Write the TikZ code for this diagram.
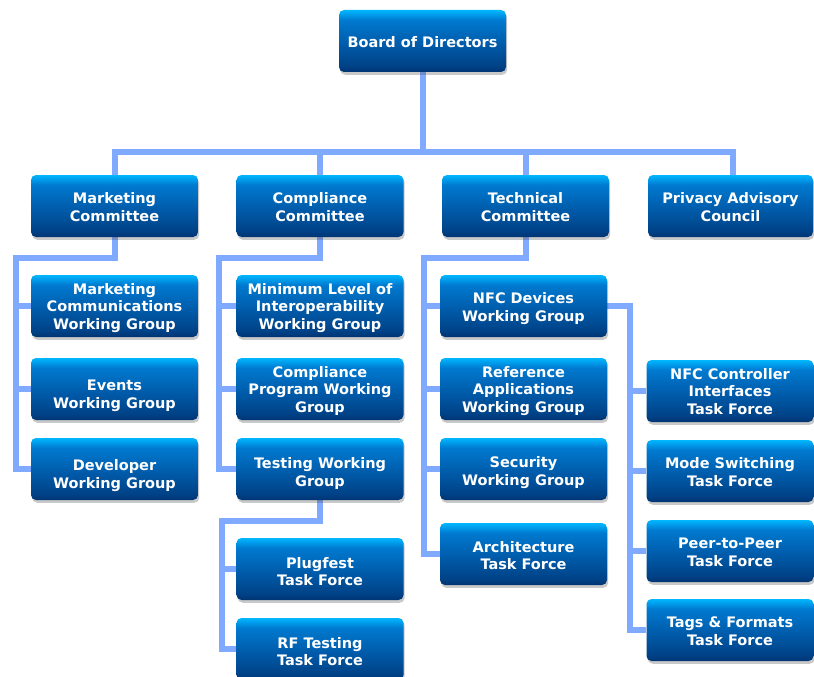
\documentclass[tikz,border=0pt]{standalone}
\usepackage{fontspec}
\setmainfont{DejaVu Sans}
\usetikzlibrary{shadows,backgrounds}

\definecolor{linec}{RGB}{128,170,255}
\definecolor{bbot}{RGB}{0,52,115}
\definecolor{bdark}{RGB}{0,66,135}
\definecolor{bmid}{RGB}{0,95,175}
\definecolor{bup}{RGB}{0,122,208}
\definecolor{btopa}{RGB}{0,160,238}
\definecolor{btop}{RGB}{0,182,252}
\pgfdeclareverticalshading{boxshade}{100bp}{color(0bp)=(bbot); color(25bp)=(bbot); color(30bp)=(bdark); color(50bp)=(bmid); color(67bp)=(bup); color(72bp)=(btopa); color(75bp)=(btop); color(100bp)=(btop)}

\newcommand\bxt[2]{\raisebox{-#1}[\height][\depth]{\begin{tabular}{@{}c@{}}#2\end{tabular}}}

\tikzset{
  orgbox/.style={rounded corners=5pt, shading=boxshade, text=white,
    font=\bfseries\fontsize{14.5}{17.2}\selectfont, align=center,
    minimum width=167pt, minimum height=62pt, inner sep=0pt,
    drop shadow={shadow xshift=1.2pt, shadow yshift=-2.8pt, opacity=0.3, fill=black!70}},
  conn/.style={draw=linec, line width=6pt, line join=miter}
}

\begin{document}
\begin{tikzpicture}[x=1pt, y=-1pt]
\useasboundingbox (0,0) rectangle (814,677);

% top
\node[orgbox] (board) at (422.5,41) {\bxt{3pt}{Board of Directors}};
% row 1
\node[orgbox] (mkt)  at (114.5,206) {\bxt{3pt}{Marketing\\Committee}};
\node[orgbox] (comp) at (320,206) {\bxt{3pt}{Compliance\\Committee}};
\node[orgbox] (tech) at (525.5,206) {\bxt{3pt}{Technical\\Committee}};
\node[orgbox, minimum width=165pt] (priv) at (730.5,206) {\bxt{3pt}{Privacy Advisory\\Council}};
% marketing column
\node[orgbox] (mcwg) at (114.5,306) {\bxt{2.5pt}{Marketing\\Communications\\Working Group}};
\node[orgbox] (evwg) at (114.5,389) {\bxt{7pt}{Events\\Working Group}};
\node[orgbox] (dvwg) at (114.5,469) {\bxt{7pt}{Developer\\Working Group}};
% compliance column
\node[orgbox] (mliwg) at (320,306) {\bxt{2.5pt}{Minimum Level of\\Interoperability\\Working Group}};
\node[orgbox] (cpwg)  at (320,389) {\bxt{2.5pt}{Compliance\\Program Working\\Group}};
\node[orgbox] (tswg)  at (320,469) {\bxt{5pt}{Testing Working\\Group}};
\node[orgbox] (plug)  at (320,569) {\bxt{4.5pt}{Plugfest\\Task Force}};
\node[orgbox] (rftf)  at (320,649) {\bxt{4.5pt}{RF Testing\\Task Force}};
% technical column
\node[orgbox] (nfcwg) at (523.5,306) {\bxt{3pt}{NFC Devices\\Working Group}};
\node[orgbox] (refwg) at (523.5,389) {\bxt{2.5pt}{Reference\\Applications\\Working Group}};
\node[orgbox] (secwg) at (523.5,469) {\bxt{4pt}{Security\\Working Group}};
\node[orgbox] (arch)  at (523.5,554) {\bxt{3.5pt}{Architecture\\Task Force}};
% NFC task forces
\node[orgbox] (ncitf) at (730,391) {\bxt{2.5pt}{NFC Controller\\Interfaces\\Task Force}};
\node[orgbox] (mstf)  at (730,471) {\bxt{3pt}{Mode Switching\\Task Force}};
\node[orgbox] (p2ptf) at (730,551) {\bxt{3pt}{Peer-to-Peer\\Task Force}};
\node[orgbox] (tagtf) at (730,630) {\bxt{3pt}{Tags \& Formats\\Task Force}};

\coordinate (busL) at (115,152);
\coordinate (busR) at (733,152);
\coordinate (mkL) at (16,258);
\coordinate (cpL) at (219,258);
\coordinate (tsL) at (222,521);
\coordinate (teL) at (424,258);
\coordinate (nfR) at (630,306);

\begin{scope}[on background layer]
  % bus
  \draw[conn] (board.south) -- (board.south |- busL);
  \draw[conn] (busL |- mkt.north) -- (busL) -- (busR) -- (busR |- priv.north);
  \draw[conn] (comp.north) -- (comp.north |- busL);
  \draw[conn] (tech.north) -- (tech.north |- busL);
  % marketing
  \draw[conn] (mkt.south) |- (mkL) |- (dvwg.west);
  \draw[conn] (mkL |- mcwg.west) -- (mcwg.west);
  \draw[conn] (mkL |- evwg.west) -- (evwg.west);
  % compliance
  \draw[conn] (comp.south) |- (cpL) |- (tswg.west);
  \draw[conn] (cpL |- mliwg.west) -- (mliwg.west);
  \draw[conn] (cpL |- cpwg.west) -- (cpwg.west);
  % testing
  \draw[conn] (tswg.south) |- (tsL) |- (rftf.west);
  \draw[conn] (tsL |- plug.west) -- (plug.west);
  % technical
  \draw[conn] (tech.south) |- (teL) |- (arch.west);
  \draw[conn] (teL |- nfcwg.west) -- (nfcwg.west);
  \draw[conn] (teL |- refwg.west) -- (refwg.west);
  \draw[conn] (teL |- secwg.west) -- (secwg.west);
  % NFC devices
  \draw[conn] (nfcwg.east) -- (nfR) |- (tagtf.west);
  \draw[conn] (nfR |- ncitf.west) -- (ncitf.west);
  \draw[conn] (nfR |- mstf.west) -- (mstf.west);
  \draw[conn] (nfR |- p2ptf.west) -- (p2ptf.west);
\end{scope}
\end{tikzpicture}
\end{document}
